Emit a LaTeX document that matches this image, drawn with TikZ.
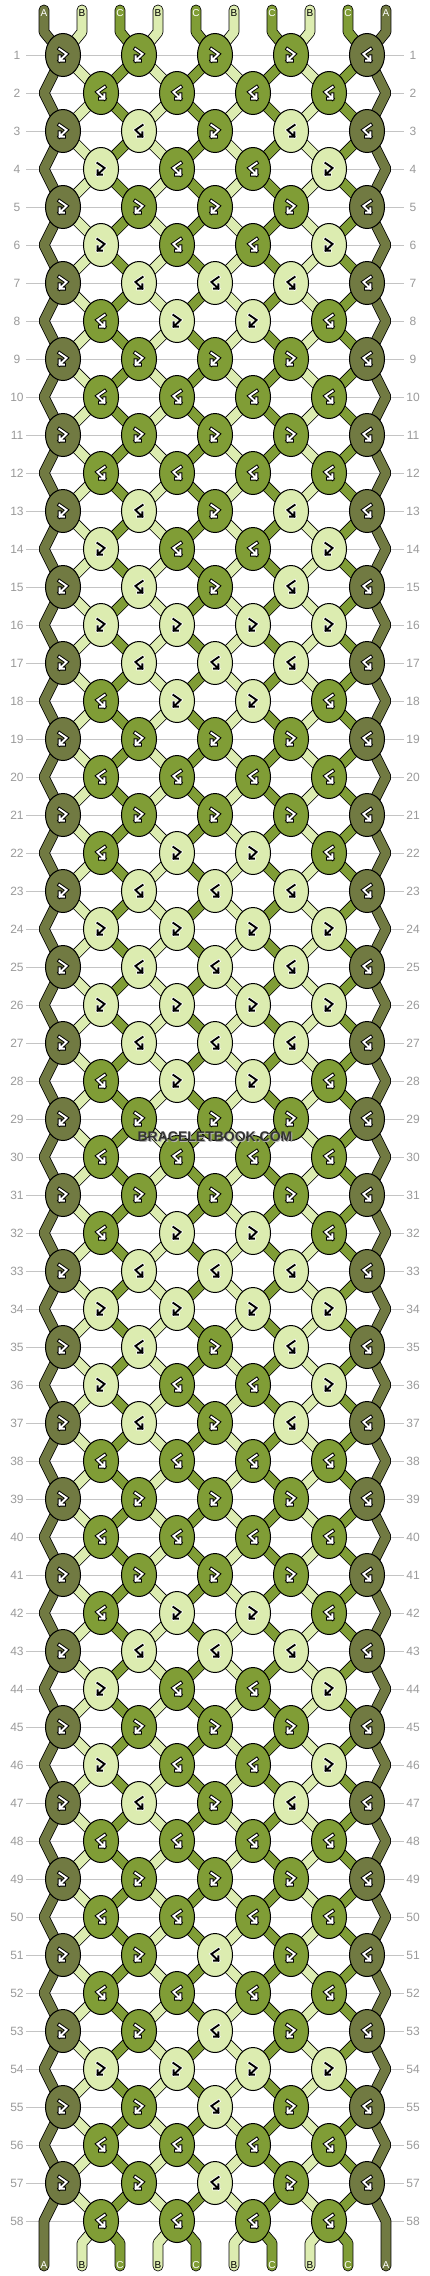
\documentclass[tikz,border=0pt]{standalone}
\usepackage{fontspec}
\newfontfamily\lsans{Liberation Sans}
\usetikzlibrary{shapes.geometric}
\definecolor{cA}{HTML}{717A42}
\definecolor{cB}{HTML}{DCECB0}
\definecolor{cC}{HTML}{809D36}
\definecolor{gridgray}{HTML}{C4C4C4}
\definecolor{numgray}{HTML}{9A9A9A}
\newcommand\glyphpath{(-3.6,-6) -- (3.6,-1) -- (-3.4,5.6) (-3.4,1.2) -- (-3.4,5.6) -- (1,5.6)}
\newcommand\knotglyph[4]{%
  \begin{scope}[shift={(#1,#2)},xscale=#3]
    \if#4M
      \draw[line width=3.8,black,line join=miter,line cap=rect] \glyphpath;
      \draw[line width=1.9,white,line join=miter,line cap=rect] \glyphpath;
    \else
      \draw[line width=3.4,white,line join=miter,line cap=rect] \glyphpath;
      \draw[line width=1.9,black,line join=miter,line cap=rect] \glyphpath;
    \fi
  \end{scope}}
\begin{document}
\begin{tikzpicture}[x=1pt,y=-1pt,
  knotshape/.style={ellipse,draw=black,line width=1,minimum width=35,minimum height=43,inner sep=0},
  gridline/.style={draw=gridgray,line width=1},
  rownum/.style={font=\lsans\fontsize{12}{14}\selectfont,text=numgray,inner sep=0},
  strlab/.style={font=\lsans\fontsize{10}{12}\selectfont,inner sep=0},
  strout/.style={draw=black,line width=10.8,line cap=round,line join=bevel},
  strin/.style={line width=9.2,line cap=round,line join=bevel}]
\fill[white] (0,0) rectangle (430,2276);
\useasboundingbox (0,0) rectangle (430,2276);
% grid lines and row numbers
\foreach \r in {1,...,58}{
  \pgfmathsetmacro\yy{55+38*(\r-1)}
  \coordinate (gl\r) at (26,\yy);
  \coordinate (gr\r) at (404,\yy);
  \draw[gridline] (gl\r) -- (gr\r);
  \node[rownum] (nl\r) at (17,\yy) {\r};
  \node[rownum] (nr\r) at (413,\yy) {\r};
}
% strings
\foreach \i/\col in {0/cA,1/cB,2/cC,3/cB,4/cC,5/cB,6/cC,7/cB,8/cC,9/cA}{
  \pgfmathsetmacro\xs{44+38*\i}
  \pgfmathsetmacro\xo{63+76*floor(\i/2)}
  \pgfmathsetmacro\xe{\i==0 ? 44 : (\i==9 ? 386 : 101+76*floor((\i-1)/2))}
  \draw[strout] (\xs,10) -- (\xs,32)
    \foreach \r [evaluate=\r as \xx using {int(mod(\r,2))==1 ? \xo : \xe},
                 evaluate=\r as \yy using {55+38*(\r-1)}] in {1,...,58}{ -- (\xx,\yy) }
    -- (\xs,2243) -- (\xs,2266);
  \draw[strin,draw=\col] (\xs,10) -- (\xs,32)
    \foreach \r [evaluate=\r as \xx using {int(mod(\r,2))==1 ? \xo : \xe},
                 evaluate=\r as \yy using {55+38*(\r-1)}] in {1,...,58}{ -- (\xx,\yy) }
    -- (\xs,2243) -- (\xs,2266);
}
% string labels
\foreach \i/\lab/\tc in {0/A/white,1/B/black,2/C/white,3/B/black,4/C/white,5/B/black,6/C/white,7/B/black,8/C/white,9/A/white}{
  \node[strlab,text=\tc] (top\i) at ({44+38*\i},13) {\lab};
  \node[strlab,text=\tc] (bot\i) at ({44+38*\i},2265) {\lab};
}
% knots
\foreach \r/\lst in {1/{M,M,M},2/{M,M,M,M},3/{L,M,L},4/{L,M,M,L},5/{M,M,M},6/{L,M,M,L},7/{L,L,L},8/{M,L,L,M},
  9/{M,M,M},10/{M,M,M,M},11/{M,M,M},12/{M,M,M,M},13/{L,M,L},14/{L,M,M,L},15/{L,M,L},16/{L,L,L,L},
  17/{L,L,L},18/{M,L,L,M},19/{M,M,M},20/{M,M,M,M},21/{M,M,M},22/{M,L,L,M},23/{L,L,L},24/{L,L,L,L},
  25/{L,L,L},26/{L,L,L,L},27/{L,L,L},28/{M,L,L,M},29/{M,M,M},30/{M,M,M,M},31/{M,M,M},32/{M,L,L,M},
  33/{L,L,L},34/{L,L,L,L},35/{L,M,L},36/{L,M,M,L},37/{L,M,L},38/{M,M,M,M},39/{M,M,M},40/{M,M,M,M},
  41/{M,M,M},42/{M,L,L,M},43/{L,L,L},44/{L,M,M,L},45/{M,M,M},46/{L,M,M,L},47/{L,M,L},48/{M,M,M,M},
  49/{M,M,M},50/{M,M,M,M},51/{M,L,M},52/{M,M,M,M},53/{M,L,M},54/{L,L,L,L},55/{M,L,M},56/{M,M,M,M},
  57/{M,L,M},58/{M,M,M,M}}{
  \pgfmathsetmacro\yy{55+38*(\r-1)}
  \ifodd\r
    \node[knotshape,fill=cA] (kl\r) at (63,\yy) {};
    \knotglyph{63}{\yy}{1}{M}
    \node[knotshape,fill=cA] (kr\r) at (367,\yy) {};
    \knotglyph{367}{\yy}{-1}{M}
    \foreach \c [count=\k] in \lst {
      \pgfmathsetmacro\xx{63+76*\k}
      \if\c M
        \node[knotshape,fill=cC] (k\r-\k) at (\xx,\yy) {};
        \knotglyph{\xx}{\yy}{1}{M}
      \else
        \node[knotshape,fill=cB] (k\r-\k) at (\xx,\yy) {};
        \knotglyph{\xx}{\yy}{-1}{L}
      \fi
    }
  \else
    \foreach \c [count=\k] in \lst {
      \pgfmathsetmacro\xx{101+76*(\k-1)}
      \if\c M
        \node[knotshape,fill=cC] (k\r-\k) at (\xx,\yy) {};
        \knotglyph{\xx}{\yy}{-1}{M}
      \else
        \node[knotshape,fill=cB] (k\r-\k) at (\xx,\yy) {};
        \knotglyph{\xx}{\yy}{1}{L}
      \fi
    }
  \fi
}
% watermark
\node[font=\lsans\bfseries\fontsize{14}{16}\selectfont,text=black!30,inner sep=0] (wmshadow) at (216,1138) {BRACELETBOOK.COM};
\node[font=\lsans\bfseries\fontsize{14}{16}\selectfont,text=black!80,inner sep=0] (wm) at (215,1137) {BRACELETBOOK.COM};
\end{tikzpicture}
\end{document}
